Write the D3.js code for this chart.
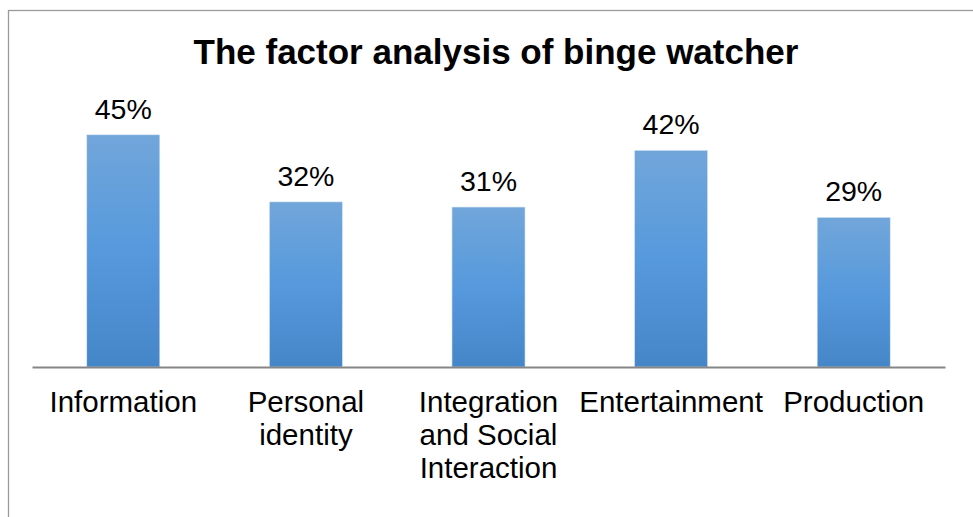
<!DOCTYPE html>
<html>
<head>
<meta charset="utf-8">
<script src="https://cdn.jsdelivr.net/npm/d3@7/dist/d3.min.js"></script>
<style>
  html, body { margin: 0; padding: 0; background: #fff; }
  svg { display: block; font-family: "Liberation Sans", Arial, Helvetica, sans-serif; }
</style>
</head>
<body>
<svg id="chart" width="973" height="517"></svg>
<script>
// Share of respondents per binge-watching motive
const titleText = "The factor analysis of binge watcher";
const categories = [
  ["Information"],
  ["Personal", "identity"],
  ["Integration", "and Social", "Interaction"],
  ["Entertainment"],
  ["Production"]
];
const values = [0.45, 0.32, 0.31, 0.42, 0.29];

const W = 973, H = 517;
const svg = d3.select("#chart");

// Gradient fill for the bars
const defs = svg.append("defs");
const grad = defs.append("linearGradient")
  .attr("id", "barFill").attr("x1", 0).attr("y1", 0).attr("x2", 0).attr("y2", 1);
grad.append("stop").attr("offset", "0%").attr("stop-color", "#71a6da");
grad.append("stop").attr("offset", "50%").attr("stop-color", "#5699dc");
grad.append("stop").attr("offset", "100%").attr("stop-color", "#4586c8");

// Outer chart frame (runs past the right and bottom edges)
svg.append("rect")
  .attr("x", 8.5).attr("y", 10.5)
  .attr("width", W + 20).attr("height", H + 20)
  .attr("fill", "none").attr("stroke", "#9a9a9a").attr("stroke-width", 1.3);

const x = d3.scaleBand()
  .domain(d3.range(values.length))
  .range([32, 945])
  .paddingInner(0.6)
  .paddingOuter(0.3);

const y = d3.scaleLinear().domain([0, 0.5]).range([367, 109]);

// Title
svg.append("text")
  .attr("x", 496).attr("y", 64)
  .attr("text-anchor", "middle")
  .attr("font-size", 35).attr("font-weight", "bold")
  .attr("fill", "#000")
  .text(titleText);

// Bars
svg.append("g").selectAll("rect")
  .data(values)
  .join("rect")
  .attr("x", (d, i) => x(i))
  .attr("y", d => y(d))
  .attr("width", x.bandwidth())
  .attr("height", d => y(0) - y(d))
  .attr("fill", "url(#barFill)")
  .attr("stroke", "#dbe7f4").attr("stroke-width", 0.6);

// Value labels
const fmt = d3.format(".0%");
svg.append("g").selectAll("text")
  .data(values)
  .join("text")
  .attr("x", (d, i) => x(i) + x.bandwidth() / 2)
  .attr("y", d => y(d) - 16)
  .attr("text-anchor", "middle")
  .attr("font-size", 28.5)
  .attr("fill", "#000")
  .text(d => fmt(d));

// Category axis
const xAxis = d3.axisBottom(x).tickSize(0).tickFormat(() => "");
const axisG = svg.append("g")
  .attr("transform", `translate(0,${y(0)})`)
  .call(xAxis);
axisG.select(".domain").attr("stroke", "#868686").attr("stroke-width", 2.2);

const labels = svg.append("g").selectAll("text")
  .data(categories)
  .join("text")
  .attr("x", (d, i) => x(i) + x.bandwidth() / 2)
  .attr("y", 411.5)
  .attr("text-anchor", "middle")
  .attr("font-size", 29.5)
  .attr("fill", "#000");
labels.selectAll("tspan")
  .data(d => d)
  .join("tspan")
  .attr("x", function () { return d3.select(this.parentNode).attr("x"); })
  .attr("dy", (d, i) => i === 0 ? 0 : 33)
  .text(d => d);
</script>
</body>
</html>
